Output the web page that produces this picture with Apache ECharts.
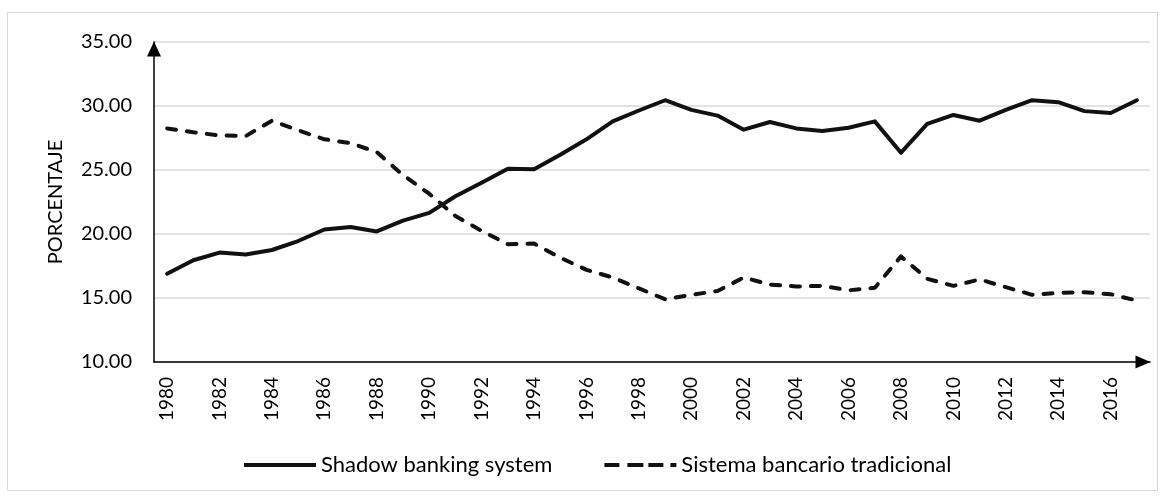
<!DOCTYPE html>
<html>
<head>
<meta charset="utf-8">
<script src="https://cdn.jsdelivr.net/npm/echarts@6/dist/echarts.min.js"></script>
<style>
  html, body { margin: 0; padding: 0; background: #ffffff; }
  #chart { width: 1164px; height: 498px; }
</style>
</head>
<body>
<div id="chart"></div>
<script>
// Años (eje de categorías)
const years = [
  1980, 1981, 1982, 1983, 1984, 1985, 1986, 1987, 1988, 1989,
  1990, 1991, 1992, 1993, 1994, 1995, 1996, 1997, 1998, 1999,
  2000, 2001, 2002, 2003, 2004, 2005, 2006, 2007, 2008, 2009,
  2010, 2011, 2012, 2013, 2014, 2015, 2016, 2017
];

// Participación del shadow banking system (%)
const shadowBanking = [
  16.90, 17.95, 18.55, 18.40, 18.75, 19.45, 20.35, 20.55, 20.20, 21.05,
  21.65, 22.95, 24.00, 25.10, 25.05, 26.20, 27.40, 28.80, 29.65, 30.45,
  29.70, 29.25, 28.15, 28.75, 28.25, 28.05, 28.30, 28.80, 26.35, 28.60,
  29.30, 28.85, 29.70, 30.45, 30.30, 29.60, 29.45, 30.45
];

// Participación del sistema bancario tradicional (%)
const bancarioTradicional = [
  28.25, 27.95, 27.70, 27.65, 28.85, 28.10, 27.40, 27.10, 26.40, 24.60,
  23.15, 21.40, 20.25, 19.20, 19.25, 18.15, 17.20, 16.60, 15.75, 14.90,
  15.25, 15.55, 16.60, 16.05, 15.90, 15.95, 15.60, 15.80, 18.25, 16.50,
  15.95, 16.45, 15.85, 15.25, 15.40, 15.45, 15.30, 14.80
];

const seriesNames = ['Shadow banking system', 'Sistema bancario tradicional'];
const yAxisTitle = 'PORCENTAJE';

const FONT = 'Lato, "Open Sans", sans-serif';
const INK = '#111111';

// Legend keys: a solid bar and a dash-dash-dash-dot bar
const solidKey = 'path://M0,0H72V4H0Z';
const dashedKey = 'path://M0,0H15V4H0Z M23,0H39V4H23Z M44,0H59V4H44Z M66,0H72V4H66Z';

const chart = echarts.init(document.getElementById('chart'), null, { renderer: 'canvas' });

chart.setOption({
  animation: false,
  backgroundColor: '#ffffff',
  graphic: [{
    type: 'rect',
    silent: true,
    shape: { x: 7.5, y: 12.5, width: 1150, height: 478 },
    style: { fill: 'none', stroke: '#d9d9d9', lineWidth: 1 }
  }],
  grid: { left: 154, right: 14, top: 42, bottom: 136, containLabel: false },
  legend: {
    data: [
      { name: seriesNames[0], icon: solidKey },
      { name: seriesNames[1], icon: dashedKey }
    ],
    left: 239,
    top: 449,
    itemWidth: 72,
    itemHeight: 4,
    itemGap: 52,
    itemStyle: { color: INK, borderWidth: 0 },
    textStyle: { fontFamily: FONT, fontSize: 22, color: '#000000' }
  },
  xAxis: {
    type: 'category',
    data: years,
    boundaryGap: true,
    axisLine: {
      show: true,
      symbol: ['none', 'triangle'],
      symbolSize: [13, 15],
      symbolOffset: [0, -7],
      lineStyle: { color: '#000000', width: 1.5 }
    },
    axisTick: { show: false },
    axisLabel: {
      interval: 1,
      rotate: 90,
      margin: 15,
      fontFamily: FONT,
      fontSize: 19,
      color: '#000000'
    },
    splitLine: { show: false }
  },
  yAxis: {
    type: 'value',
    min: 10,
    max: 35,
    interval: 5,
    name: yAxisTitle,
    nameLocation: 'middle',
    nameRotate: 90,
    nameGap: 88,
    nameTextStyle: { fontFamily: FONT, fontSize: 20, color: '#000000' },
    axisLine: {
      show: true,
      symbol: ['none', 'triangle'],
      symbolSize: [14, 15],
      symbolOffset: [0, -7],
      lineStyle: { color: '#000000', width: 1.5 }
    },
    axisTick: { show: false },
    axisLabel: {
      margin: 22,
      fontFamily: FONT,
      fontSize: 20,
      color: '#000000',
      formatter: v => v.toFixed(2)
    },
    splitLine: { show: true, lineStyle: { color: '#d9d9d9', width: 1.5 } }
  },
  series: [
    {
      name: seriesNames[0],
      type: 'line',
      data: shadowBanking,
      symbol: 'none',
      smooth: false,
      lineStyle: { color: INK, width: 4, cap: 'round', join: 'round' },
      itemStyle: { color: INK },
      z: 3
    },
    {
      name: seriesNames[1],
      type: 'line',
      data: bancarioTradicional,
      symbol: 'none',
      smooth: false,
      lineStyle: { color: INK, width: 4, type: [9, 11], cap: 'round', join: 'round' },
      itemStyle: { color: INK },
      z: 3
    }
  ]
});
</script>
</body>
</html>
